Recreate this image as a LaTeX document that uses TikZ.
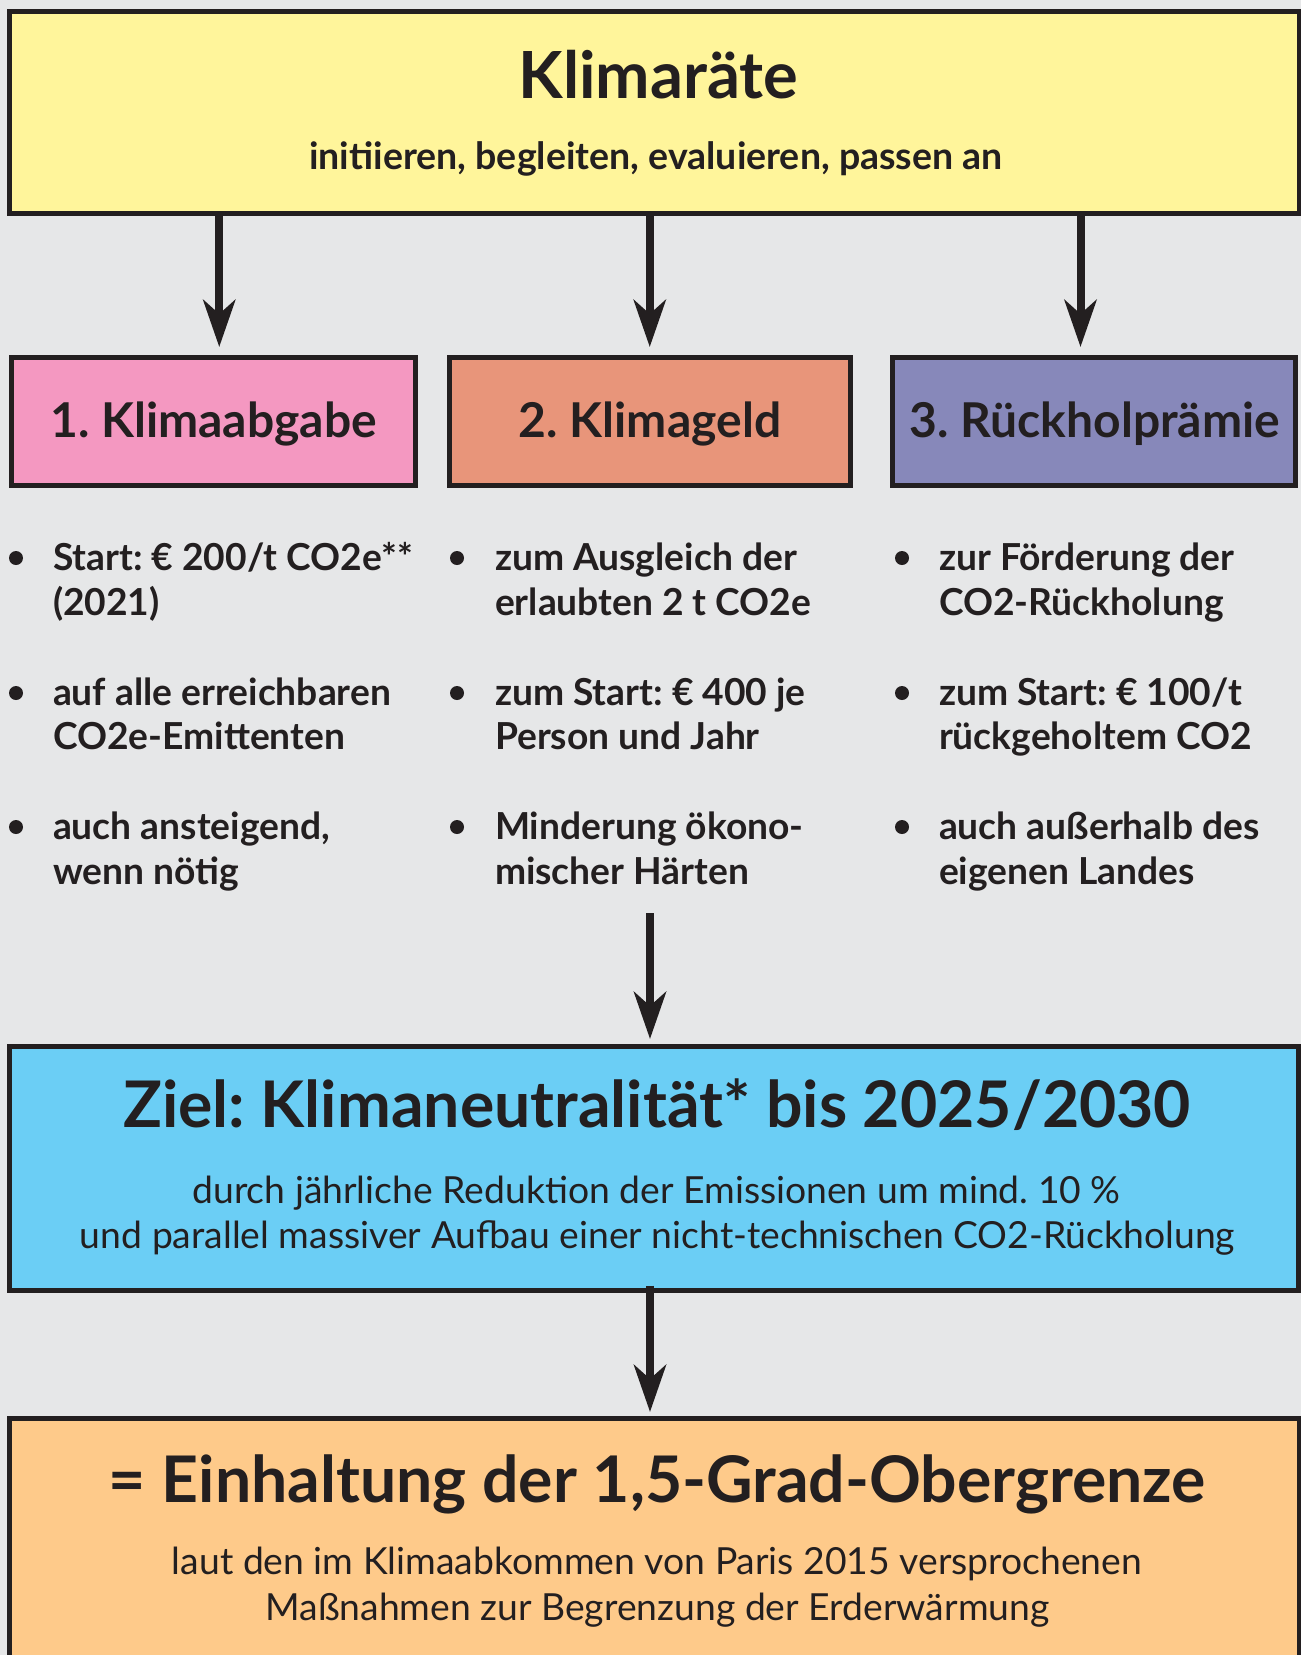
\documentclass[tikz,border=0pt]{standalone}
\usepackage{fontspec}
\setmainfont{Lato}
\usetikzlibrary{arrows.meta}
\definecolor{bg}{HTML}{E6E7E8}
\definecolor{ink}{HTML}{231F20}
\definecolor{cyellow}{HTML}{FFF59B}
\definecolor{cpink}{HTML}{F498C1}
\definecolor{csalmon}{HTML}{E8957A}
\definecolor{cpurple}{HTML}{8788BA}
\definecolor{cblue}{HTML}{6BCEF5}
\definecolor{corange}{HTML}{FECA8A}
\newcommand\fsz[1]{\fontsize{#1}{#1}\selectfont}
\frenchspacing
\tikzset{
  box/.style={draw=ink, line width=5pt, inner sep=0pt, outer sep=0pt, rectangle},
  arr/.style={draw=ink, line width=8pt, -{Stealth[length=47pt,width=32pt,inset=14pt]}},
  txt/.style={text=ink, inner sep=0pt, outer sep=0pt},
  bul/.style={txt, anchor=base west, font=\fsz{37.2}\bfseries},
  dot/.style={circle, fill=ink, minimum size=14pt, inner sep=0pt},
}
\begin{document}
\begin{tikzpicture}[x=1pt,y=-1pt]
\fill[bg] (0,0) rectangle (1301,1655);
\useasboundingbox (0,0) rectangle (1301,1655);
\clip (0,0) rectangle (1301,1655);

% boxes
\node[box, fill=cyellow, minimum width=1289.5pt, minimum height=202pt] (top) at (654.25,112) {};
\node[box, fill=cpink, minimum width=403.5pt, minimum height=128pt] (b1) at (213.25,421.5) {};
\node[box, fill=csalmon, minimum width=400.5pt, minimum height=128pt] (b2) at (649.75,421.5) {};
\node[box, fill=cpurple, minimum width=403pt, minimum height=128pt] (b3) at (1094,421.5) {};
\node[box, fill=cblue, minimum width=1289pt, minimum height=244pt] (goal) at (654,1168.5) {};
\node[box, fill=corange, minimum width=1289.5pt, minimum height=283pt] (res) at (654.25,1560) {};

% top texts
\node[txt, anchor=base, font=\fsz{65}\bfseries] (t0) at (658.5,98) {Klimaräte};
\node[txt, anchor=base, font=\fsz{37.5}\bfseries] (t1) at (656,169) {initiieren, begleiten, evaluieren, passen an};

% headers
\node[txt, anchor=base, font=\fsz{48}\bfseries] (h1) at (213.6,437) {1. Klimaabgabe};
\node[txt, anchor=base, font=\fsz{48}\bfseries] (h2) at (650,437) {2. Klimageld};
\node[txt, anchor=base, font=\fsz{48}\bfseries] (h3) at (1095,437) {3. Rückholprämie};

% arrows from top
\draw[arr, shorten >=10.5pt] ([xshift=6pt]top.south -| b1.north) -- ([xshift=6pt]b1.north);
\draw[arr, shorten >=10.5pt] (top.south -| b2.north) -- (b2.north);
\draw[arr, shorten >=10.5pt] ([xshift=-13.5pt]top.south -| b3.north) -- ([xshift=-13.5pt]b3.north);

% column 1
\node[dot] (d11) at (16,558) {};
\node[bul] (c11a) at (53,570) {Start: € 200/t CO2e**};
\node[bul] (c11b) at (53,615) {(2021)};
\node[dot] (d12) at (16,693) {};
\node[bul] (c12a) at (53,705) {auf alle erreichbaren};
\node[bul] (c12b) at (53,749) {CO2e-Emittenten};
\node[dot] (d13) at (16,827) {};
\node[bul] (c13a) at (53,839) {auch ansteigend,};
\node[bul] (c13b) at (53,884) {wenn nötig};

% column 2
\node[dot] (d21) at (457,558) {};
\node[bul] (c21a) at (495,570) {zum Ausgleich der};
\node[bul] (c21b) at (495,615) {erlaubten 2 t CO2e};
\node[dot] (d22) at (457,693) {};
\node[bul] (c22a) at (495,705) {zum Start: € 400 je};
\node[bul] (c22b) at (495,749) {Person und Jahr};
\node[dot] (d23) at (457,827) {};
\node[bul] (c23a) at (495,839) {Minderung ökono-};
\node[bul] (c23b) at (495,884) {mischer Härten};

% column 3
\node[dot] (d31) at (902,558) {};
\node[bul] (c31a) at (939,570) {zur Förderung der};
\node[bul] (c31b) at (939,615) {CO2-Rückholung};
\node[dot] (d32) at (902,693) {};
\node[bul] (c32a) at (939,705) {zum Start: € 100/t};
\node[bul] (c32b) at (939,749) {rückgeholtem CO2};
\node[dot] (d33) at (902,827) {};
\node[bul] (c33a) at (939,839) {auch außerhalb des};
\node[bul] (c33b) at (939,884) {eigenen Landes};

% arrow to goal
\coordinate (a4s) at (650,913);
\draw[arr, shorten >=7.5pt] (a4s) -- (goal.north -| a4s);

% goal texts
\node[txt, anchor=base, font=\fsz{64.3}\bfseries] (g0) at (657,1127) {Ziel: Klimaneutralität* bis 2025/2030};
\node[txt, anchor=base, font=\fsz{37.3}] (g1) at (656.5,1203) {durch jährliche Reduktion der Emissionen um mind. 10 \%};
\node[txt, anchor=base, font=\fsz{37.3}] (g2) at (657.5,1248) {und parallel massiver Aufbau einer nicht-technischen CO2-Rückholung};

% arrow to result
\draw[arr, shorten >=6.5pt] ([yshift=5pt]goal.south -| a4s) -- (res.north -| a4s);

% result texts
\node[txt, anchor=base, font=\fsz{64.3}\bfseries] (r0) at (657.5,1502.6) {= Einhaltung der 1,5-Grad-Obergrenze};
\node[txt, anchor=base, font=\fsz{37.3}] (r1) at (657,1574) {laut den im Klimaabkommen von Paris 2015 versprochenen};
\node[txt, anchor=base, font=\fsz{37.3}] (r2) at (657.5,1620) {Maßnahmen zur Begrenzung der Erderwärmung};
\end{tikzpicture}
\end{document}
